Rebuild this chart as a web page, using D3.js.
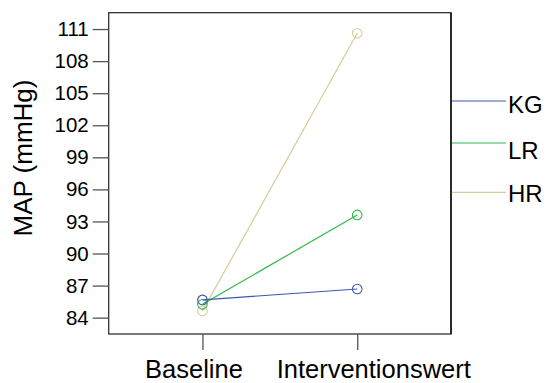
<!DOCTYPE html>
<html>
<head>
<meta charset="utf-8">
<script src="https://cdn.jsdelivr.net/npm/d3@7"></script>
<style>
  body { margin: 0; background: #fff; }
  text { font-family: "Liberation Sans", Arial, sans-serif; fill: #000; }
</style>
</head>
<body>
<svg id="chart" width="547" height="383"></svg>
<script>
// Daten
let zeitpunkte = ["Baseline", "Interventionswert"];
let gruppen = ["KG", "LR", "HR"];
let mapKG = [85.66, 86.68];
let mapLR = [85.25, 93.61];
let mapHR = [84.63, 110.6];
let yTicks = [84, 87, 90, 93, 96, 99, 102, 105, 108, 111];
let farben = ["#3E58AC", "#2EB848", "#D3CE97"];

let svg = d3.select("#chart");

let plotLeft = 108.7, plotRight = 451, plotTop = 12.7, plotBottom = 334;

let x = d3.scalePoint()
    .domain(zeitpunkte)
    .range([plotLeft, plotRight])
    .padding(0.606);

let y = d3.scaleLinear()
    .domain([82.47, 112.53])
    .range([plotBottom, plotTop]);

// Rahmen
svg.append("rect")
    .attr("x", plotLeft)
    .attr("y", plotTop)
    .attr("width", plotRight - plotLeft)
    .attr("height", plotBottom - plotTop)
    .attr("fill", "none")
    .attr("stroke", "#333")
    .attr("stroke-width", 1.3);

// y-Achse
let yAxis = svg.append("g")
    .attr("transform", "translate(" + plotLeft + ",0)")
    .call(d3.axisLeft(y).tickValues(yTicks).tickSize(16).tickPadding(4));
yAxis.select(".domain").remove();
yAxis.selectAll(".tick line").attr("stroke", "#555").attr("stroke-width", 1.3);
yAxis.selectAll(".tick text")
    .attr("font-size", 20.5)
    .attr("font-family", "Liberation Sans, Arial, sans-serif")
    .attr("fill", "#000");

// x-Achse
let labelShift = [-9, 16];
let xAxis = svg.append("g")
    .attr("transform", "translate(0," + plotBottom + ")")
    .call(d3.axisBottom(x).tickSize(16).tickPadding(10));
xAxis.select(".domain").remove();
xAxis.selectAll(".tick line").attr("stroke", "#555").attr("stroke-width", 1.3);
xAxis.selectAll(".tick text")
    .attr("font-size", 25.5)
    .attr("font-family", "Liberation Sans, Arial, sans-serif")
    .attr("fill", "#000")
    .attr("dx", (d, i) => labelShift[i]);

// Achsentitel
svg.append("text")
    .attr("transform", "translate(32,158) rotate(-90)")
    .attr("text-anchor", "middle")
    .attr("font-size", 26)
    .text("MAP (mmHg)");

// Linien und Punkte
let serien = [mapKG, mapLR, mapHR];
let linie = d3.line()
    .x((d, i) => x(zeitpunkte[i]))
    .y(d => y(d));

// HR zuerst, damit KG oben liegt
for (let s = serien.length - 1; s >= 0; s--) {
    let g = svg.append("g");
    g.append("path")
        .attr("d", linie(serien[s]))
        .attr("fill", "none")
        .attr("stroke", farben[s])
        .attr("stroke-width", 1.2);
    g.selectAll("circle")
        .data(serien[s])
        .enter()
        .append("circle")
        .attr("cx", (d, i) => x(zeitpunkte[i]))
        .attr("cy", d => y(d))
        .attr("r", 4.8)
        .attr("fill", "none")
        .attr("stroke", farben[s])
        .attr("stroke-width", 1.1);
}

// Legende
let legLinieY = [101, 143, 192.3];
let legTextY = [113, 159, 201.5];
gruppen.forEach((name, i) => {
    svg.append("line")
        .attr("x1", plotRight)
        .attr("x2", 506)
        .attr("y1", legLinieY[i])
        .attr("y2", legLinieY[i])
        .attr("stroke", farben[i])
        .attr("stroke-width", 1.2);
    svg.append("text")
        .attr("x", 508)
        .attr("y", legTextY[i])
        .attr("font-size", 24)
        .text(name);
});

// rechte Linie schwarz
svg.append("line")
    .attr("x1", plotRight)
    .attr("x2", plotRight)
    .attr("y1", plotTop)
    .attr("y2", plotBottom)
    .attr("stroke", "#000")
    .attr("stroke-width", 1.3);
</script>
</body>
</html>
